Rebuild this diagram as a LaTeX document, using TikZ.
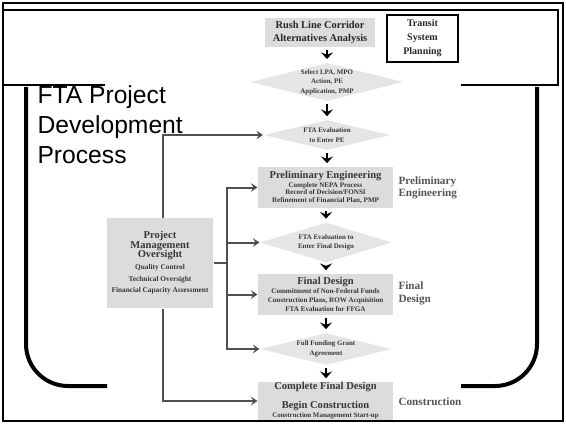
\documentclass[tikz,border=0pt]{standalone}
\usepackage{fontspec}
\setmainfont{Liberation Serif}
\newfontfamily\arialfont{Liberation Sans}
\usetikzlibrary{shapes.geometric,arrows.meta}

\definecolor{boxgray}{RGB}{220,220,220}
\definecolor{diagray}{RGB}{229,229,229}
\definecolor{inkgray}{RGB}{55,55,55}
\definecolor{linkgray}{RGB}{80,80,80}

\newcommand\boxhead[1]{{\fontsize{7.9}{8}\selectfont #1}}

\tikzset{every picture/.style={line width=0.75pt}}
\tikzset{
  graybox/.style={rectangle, fill=boxgray, inner sep=0pt, align=center, text=inkgray},
  decision/.style={diamond, aspect=4, fill=diagray, inner sep=0pt, align=center, text=inkgray,
    font=\bfseries\fontsize{5.2}{7}\selectfont},
  sidelabel/.style={anchor=west, inner sep=0pt, align=left, text=inkgray!85,
    font=\bfseries\fontsize{8.4}{9.4}\selectfont},
  chainarrow/.style={line width=2.1pt, -{Stealth[length=5pt,width=9pt,inset=1.8pt]},
    shorten <=2pt, shorten >=2.5pt},
  link/.style={draw=linkgray, line width=1.5pt, -{Stealth[length=5pt,width=6.5pt,inset=2pt,fill=black!80]}},
  bracket/.style={line width=3pt, rounded corners=31.5pt},
}

\begin{document}
\begin{tikzpicture}[x=0.75pt,y=0.75pt,yscale=-1,xscale=1]
\useasboundingbox (0,0) rectangle (566,424);

%Shape: Rectangle [frame]
\draw [line width=0.9pt] (3,3) rectangle (563,421);
%Straight Lines [title box]
\draw [line width=1.2pt] (105,85) -- (3,85) -- (3,10) -- (558,10) -- (558,85) -- (461,85);
%Curve Lines [brackets]
\draw [bracket] (26,87) -- (26,386) -- (107,386);
\draw [bracket] (537,87) -- (537,386) -- (461,386);

% Text Node
\node [anchor=north west, inner sep=0pt, align=left,
  font=\arialfont\fontsize{18.5}{22.5}\selectfont] (ftatitle) at (37,85) {FTA Project\\Development\\Process};

% Text Node
\node [graybox, minimum width=82.5pt, minimum height=21.75pt, text=black!85,
  font=\bfseries\fontsize{7.8}{9.75}\selectfont] (rush) at (320,32.5) {Rush Line Corridor\\Alternatives Analysis};
% Text Node
\node [draw, line width=1.5pt, fill=white, minimum width=53.25pt, minimum height=35.25pt, inner sep=0pt,
  align=center, text=black!85, font=\bfseries\fontsize{7.5}{10.5}\selectfont] (transit) at (422.5,38.5) {Transit\\System\\Planning};

% Decision Nodes
\node [decision, minimum width=102.75pt, minimum height=27pt] (d1) at (327,82) {Select LPA, MPO\\Action, PE\\Application, PMP};
\node [decision, minimum width=95.25pt, minimum height=22.5pt] (d2) at (327,135) {FTA Evaluation\\to Enter PE};
\node [decision, minimum width=99pt, minimum height=30pt] (d3) at (326,242.5) {FTA Evaluation to\\Enter Final Design};
\node [decision, minimum width=99pt, minimum height=24pt] (d4) at (326,349) {Full Funding Grant\\Agreement};

% Phase Boxes
\node [graybox, minimum width=101.25pt, minimum height=30.75pt, font=\bfseries\fontsize{5.3}{5.8}\selectfont] (pe) at (325.5,187.5)
  {\boxhead{Preliminary Engineering}\\[0.4pt]Complete NEPA Process\\Record of Decision/FONSI\\Refinement of Financial Plan, PMP};
\node [graybox, minimum width=101.25pt, minimum height=30.75pt, font=\bfseries\fontsize{5.3}{6.6}\selectfont] (fd) at (325.5,294.5)
  {\boxhead{Final Design}\\Commitment of Non-Federal Funds\\Construction Plans, ROW Acquisition\\FTA Evaluation for FFGA};
\node [graybox, minimum width=101.25pt, minimum height=28.5pt, font=\bfseries\fontsize{5.2}{6.75}\selectfont] (cc) at (325.5,401)
  {\boxhead{Complete Final Design}\\[6pt]\boxhead{Begin Construction}\\Construction Management Start-up};

% Text Node
\node [graybox, minimum width=79.5pt, minimum height=67.5pt, font=\bfseries\fontsize{5.5}{8.6}\selectfont] (pmo) at (160,263)
  {\boxhead{Project}\\[-1.5pt]\boxhead{Management}\\[-1.5pt]\boxhead{Oversight}\\[0.4pt]Quality Control\\Technical Oversight\\Financial Capacity Assessment};

% Side Labels
\node [sidelabel] (pelabel) at (398,188) {Preliminary\\Engineering};
\node [sidelabel] (fdlabel) at (398,293.5) {Final\\Design};
\node [sidelabel] (cclabel) at (398,402) {Construction};

%Straight Lines [main chain]
\draw [chainarrow] (d1.north |- rush.south) -- (d1.north);
\draw [chainarrow] (d1.south) -- (d2.north);
\draw [chainarrow] (d2.south) -- (pe.north -| d2.south);
\draw [chainarrow] (pe.south -| d3.north) -- (d3.north);
\draw [chainarrow] (d3.south) -- (fd.north -| d3.south);
\draw [chainarrow] (fd.south -| d4.north) -- (d4.north);
\draw [chainarrow] (d4.south) -- (cc.north -| d4.south);

%Straight Lines [oversight links]
\coordinate (bus) at ([xshift=9.75pt]pmo.east);
\draw [link, -] (pmo.east) -- (bus);
\draw [link] ([xshift=2.25pt]pmo.north) |- (d2.west);
\draw [link] (bus) |- (pe.west);
\draw [link] (bus) |- (d3.west);
\draw [link] (bus) |- (fd.west);
\draw [link] (bus) |- (d4.west);
\draw [link] ([xshift=2.25pt]pmo.south) |- (cc.west);

\end{tikzpicture}
\end{document}
